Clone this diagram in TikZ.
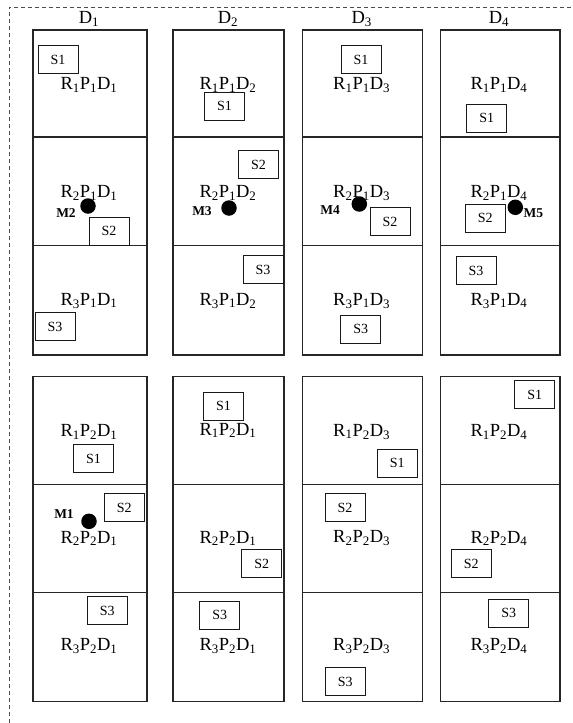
\documentclass[tikz,border=0pt]{standalone}
\usepackage{fontspec}
\setmainfont{Liberation Serif}
\begin{document}
\begin{tikzpicture}[
  x=1pt,y=-1pt,
  cell/.style={draw=black!85,line width=1.2pt},
  frame/.style={draw=black!70,line width=1pt,dash pattern=on 4pt off 3pt},
  head/.style={inner sep=0pt,font=\fontsize{18.5}{20}\selectfont},
  region/.style={inner sep=0pt,font=\fontsize{18.5}{20}\selectfont},
  sbox/.style={draw=black!90,fill=white,line width=1pt,minimum width=40pt,minimum height=28pt,inner sep=0pt,font=\fontsize{14}{16}\selectfont},
  mach/.style={circle,fill=black,minimum size=15.5pt,inner sep=0pt},
  mlab/.style={inner sep=0pt,font=\bfseries\fontsize{13.5}{16}\selectfont}
]
\useasboundingbox (0,0) rectangle (573,723);

% dashed outer frame (only top and left visible)
\draw[frame] (9,723) -- (9,7) -- (573,7);

% column headings
\node[head] (hd1) at (89,19) {D\textsubscript{1}};
\node[head] (hd2) at (228,19) {D\textsubscript{2}};
\node[head] (hd3) at (361.7,19) {D\textsubscript{3}};
\node[head] (hd4) at (499,19) {D\textsubscript{4}};

% grid cells
\foreach \xl/\xr in {33/147,173/284,302.7/422.7,440.3/560}{
  \foreach \yt/\yb in {30/137,137/245.7,245.7/355,376.7/484.3,484.3/592.7,592.7/701.7}
    \draw[cell] (\xl,\yt) rectangle (\xr,\yb);
}

% regions, block P1
\node[region] (r1p1d1) at (89,85) {R\textsubscript{1}P\textsubscript{1}D\textsubscript{1}};
\node[region] (r1p1d2) at (228,85) {R\textsubscript{1}P\textsubscript{1}D\textsubscript{2}};
\node[region] (r1p1d3) at (361.7,85) {R\textsubscript{1}P\textsubscript{1}D\textsubscript{3}};
\node[region] (r1p1d4) at (499,85) {R\textsubscript{1}P\textsubscript{1}D\textsubscript{4}};
\node[region] (r2p1d1) at (89,193) {R\textsubscript{2}P\textsubscript{1}D\textsubscript{1}};
\node[region] (r2p1d2) at (228,193) {R\textsubscript{2}P\textsubscript{1}D\textsubscript{2}};
\node[region] (r2p1d3) at (361.7,193) {R\textsubscript{2}P\textsubscript{1}D\textsubscript{3}};
\node[region] (r2p1d4) at (499,193) {R\textsubscript{2}P\textsubscript{1}D\textsubscript{4}};
\node[region] (r3p1d1) at (89,300.7) {R\textsubscript{3}P\textsubscript{1}D\textsubscript{1}};
\node[region] (r3p1d2) at (228,300.7) {R\textsubscript{3}P\textsubscript{1}D\textsubscript{2}};
\node[region] (r3p1d3) at (361.7,300.7) {R\textsubscript{3}P\textsubscript{1}D\textsubscript{3}};
\node[region] (r3p1d4) at (499,300.7) {R\textsubscript{3}P\textsubscript{1}D\textsubscript{4}};

% regions, block P2
\node[region] (r1p2d1) at (89,431.7) {R\textsubscript{1}P\textsubscript{2}D\textsubscript{1}};
\node[region] (r1p2d2) at (228,430.5) {R\textsubscript{1}P\textsubscript{2}D\textsubscript{1}};
\node[region] (r1p2d3) at (361.7,431.7) {R\textsubscript{1}P\textsubscript{2}D\textsubscript{3}};
\node[region] (r1p2d4) at (499,431.7) {R\textsubscript{1}P\textsubscript{2}D\textsubscript{4}};
\node[region] (r2p2d1) at (89,538.3) {R\textsubscript{2}P\textsubscript{2}D\textsubscript{1}};
\node[region] (r2p2d2) at (228,538.3) {R\textsubscript{2}P\textsubscript{2}D\textsubscript{1}};
\node[region] (r2p2d3) at (361.7,538.3) {R\textsubscript{2}P\textsubscript{2}D\textsubscript{3}};
\node[region] (r2p2d4) at (499,538.3) {R\textsubscript{2}P\textsubscript{2}D\textsubscript{4}};
\node[region] (r3p2d1) at (89,646) {R\textsubscript{3}P\textsubscript{2}D\textsubscript{1}};
\node[region] (r3p2d2) at (228,646) {R\textsubscript{3}P\textsubscript{2}D\textsubscript{1}};
\node[region] (r3p2d3) at (361.7,646) {R\textsubscript{3}P\textsubscript{2}D\textsubscript{3}};
\node[region] (r3p2d4) at (499,646) {R\textsubscript{3}P\textsubscript{2}D\textsubscript{4}};

% stations, block P1
\node[sbox] (s1p1d1) at (58,59.5) {S1};
\node[sbox] (s1p1d2) at (224.5,106) {S1};
\node[sbox] (s1p1d3) at (361,59.5) {S1};
\node[sbox] (s1p1d4) at (486.7,118) {S1};
\node[sbox] (s2p1d1) at (109,231) {S2};
\node[sbox] (s2p1d2) at (258.5,164.5) {S2};
\node[sbox] (s2p1d3) at (390,221.7) {S2};
\node[sbox] (s2p1d4) at (485.3,218) {S2};
\node[sbox] (s3p1d1) at (55,326.7) {S3};
\node[sbox] (s3p1d2) at (263,269.5) {S3};
\node[sbox] (s3p1d3) at (360.7,329) {S3};
\node[sbox] (s3p1d4) at (476,270.7) {S3};

% stations, block P2
\node[sbox] (s1p2d1) at (93.5,458.7) {S1};
\node[sbox] (s1p2d2) at (223.5,406) {S1};
\node[sbox] (s1p2d3) at (397.3,463.3) {S1};
\node[sbox] (s1p2d4) at (534.8,394.7) {S1};
\node[sbox] (s2p2d1) at (124.3,507.7) {S2};
\node[sbox] (s2p2d2) at (261.7,563.8) {S2};
\node[sbox] (s2p2d3) at (345,507.7) {S2};
\node[sbox] (s2p2d4) at (471.3,563.8) {S2};
\node[sbox] (s3p2d1) at (107.3,610.7) {S3};
\node[sbox] (s3p2d2) at (219.8,615.2) {S3};
\node[sbox] (s3p2d3) at (345.2,681.7) {S3};
\node[sbox] (s3p2d4) at (508.8,613) {S3};

% machines
\node[mach] (m1) at (89,521.3) {};
\node[mach] (m2) at (88,206) {};
\node[mach] (m3) at (229,208) {};
\node[mach] (m4) at (359.3,204) {};
\node[mach] (m5) at (515.3,207.3) {};
\node[mlab] (lm1) at (64,514.3) {M1};
\node[mlab] (lm2) at (66,213) {M2};
\node[mlab] (lm3) at (202,211) {M3};
\node[mlab] (lm4) at (330,210) {M4};
\node[mlab] (lm5) at (533.3,213) {M5};
\end{tikzpicture}
\end{document}
